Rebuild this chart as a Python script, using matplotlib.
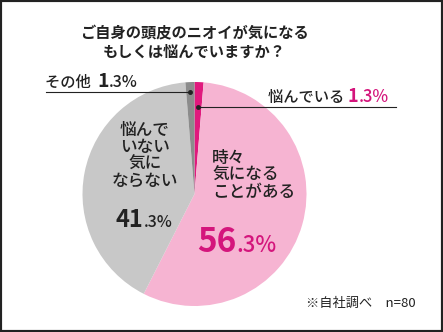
import matplotlib
matplotlib.use("Agg")
import matplotlib.pyplot as plt
import numpy as np
from matplotlib.patches import Rectangle

plt.rcParams["font.family"] = ["Noto Sans CJK JP", "DejaVu Sans"]

# data
labels = ["悩んでいる", "時々気になることがある", "悩んでいない気にならない", "その他"]
values = [1.3, 56.3, 41.3, 1.3]
colors = ["#e0197d", "#f6b4d2", "#c8c8c8", "#8c8c8c"]
title_lines = ["ご自身の頭皮のニオイが気になる", "もしくは悩んでいますか？"]
note = "※自社調べ　n=80"

W, H = 443, 332
INK = "#222222"
PINK = "#d4157c"


def fx(x):
    return x / W


def fy(y):
    return 1 - y / H


fig = plt.figure(figsize=(W / 100, H / 100), dpi=100)
fig.patch.set_facecolor("white")

cx, cy, r = 194.5, 194, 112
ax = fig.add_axes((fx(cx - r), fy(cy + r), 2 * r / W, 2 * r / H))
wedges, _ = ax.pie(values, colors=colors, startangle=90, counterclock=False,
                   radius=1.0, wedgeprops=dict(linewidth=0))
ax.set_xlim(-1, 1)
ax.set_ylim(-1, 1)
ax.set_axis_off()


def wedge_point(w, rr):
    a = np.deg2rad((w.theta1 + w.theta2) / 2)
    return rr * np.cos(a), rr * np.sin(a)


# leader lines
x0, y0 = wedge_point(wedges[3], 0.91)
ax.plot([x0, (46 - cx) / r], [y0, y0], color=INK, lw=0.8, clip_on=False)
ax.plot([x0], [y0], "o", color=INK, ms=2.5, clip_on=False)
x1, y1 = wedge_point(wedges[0], 0.78)
ax.plot([x1, (396 - cx) / r], [y1, y1], color=INK, lw=0.8, clip_on=False)
ax.plot([x1], [y1], "o", color=INK, ms=2.5, clip_on=False)

renderer = fig.canvas.get_renderer()


def put_run(x, y, parts):
    for s, size, color, weight in parts:
        t = fig.text(fx(x), fy(y), s, fontsize=size, color=color,
                     fontweight=weight, ha="left", va="baseline")
        x += t.get_window_extent(renderer).width


# title
fig.text(fx(194), fy(33), title_lines[0], fontsize=11, color=INK,
         fontweight="bold", ha="center", va="center")
fig.text(fx(194), fy(52), title_lines[1], fontsize=11, color=INK,
         fontweight="bold", ha="center", va="center")

# outside labels
put_run(45, 87, [("その他  ", 11, INK, "medium"), ("1", 14, INK, "bold"),
                 (".3%", 11.5, INK, "medium")])
put_run(268, 102, [("悩んでいる ", 11, INK, "medium"), ("1", 13, PINK, "bold"),
                   (".3%", 12, PINK, "medium")])

# inside labels
fig.text(fx(145), fy(155), "悩んで\nいない\n気に\nならない", fontsize=12, color=INK,
         ha="center", va="center", linespacing=0.92, fontweight="medium")
put_run(116, 227, [("41", 17, INK, "bold"), (".3%", 11.5, INK, "medium")])

fig.text(fx(212), fy(175), "時々\n気になる\nことがある", fontsize=12, color=INK,
         ha="left", va="center", linespacing=0.92, fontweight="medium")
put_run(197, 252, [("56", 24, PINK, "bold"), (".3%", 16, PINK, "medium")])

fig.text(fx(306), fy(303), note, fontsize=9.5, color=INK, ha="left", va="center")

fig.patches.append(Rectangle((0, 0), 1, 1, transform=fig.transFigure, fill=False,
                             edgecolor="#222222", lw=3))

fig.savefig("out.png", dpi=100, facecolor="white")
